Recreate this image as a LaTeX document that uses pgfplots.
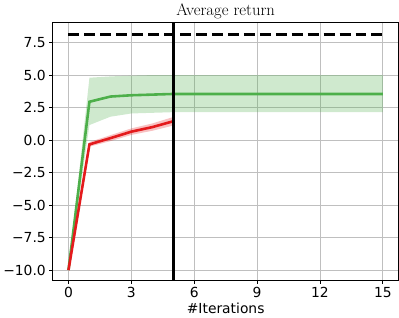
\documentclass[border=0pt]{standalone}
\usepackage{pgfplots}
\pgfplotsset{compat=1.18}
\usepackage{fontspec}
\newfontfamily\dejavu{DejaVu Sans}
\definecolor{sgreen}{HTML}{4DAF4A}
\definecolor{sred}{HTML}{E41A1C}
\begin{document}
\begin{tikzpicture}
\begin{axis}[
  scale only axis,
  width=347bp, height=259bp,
  xmin=-0.75, xmax=15.75,
  ymin=-10.77, ymax=9.09,
  xtick={0,3,6,9,12,15},
  xticklabels={0,3,6,9,12,15},
  ytick={-10,-7.5,-5,-2.5,0,2.5,5,7.5},
  yticklabels={−10.0,−7.5,−5.0,−2.5,0.0,2.5,5.0,7.5},
  tick label style={font=\fontsize{13.9bp}{16bp}\dejavu},
  xtick pos=bottom, ytick pos=left,
  tick align=outside,
  major tick length=3.5bp,
  every tick/.style={black, line width=0.8bp},
  axis line style={line width=0.8bp},
  grid=major,
  major grid style={color=black!25, line width=0.8bp},
  title={Average return},
  title style={font=\fontsize{16.7bp}{19bp}\selectfont, yshift=-6bp},
  xlabel={\#Iterations},
  xlabel style={font=\fontsize{13.9bp}{16bp}\dejavu, yshift=1bp},
]
% green band
\addplot[draw=none, fill=sgreen, fill opacity=0.27] coordinates {
 (0,-10) (1,4.8) (2,4.9) (3,4.96) (4,5.0) (5,5.0) (6,5.0) (7,5.0) (8,5.0) (9,5.0) (10,5.0) (11,5.0) (12,5.0) (13,5.0) (14,5.0) (15,5.0)
 (15,2.15) (14,2.15) (13,2.15) (12,2.15) (11,2.15) (10,2.15) (9,2.15) (8,2.15) (7,2.15) (6,2.15) (5,2.15) (4,2.1) (3,2.05) (2,1.8) (1,1.16) (0,-10)
} -- cycle;
% red band
\addplot[draw=none, fill=sred, fill opacity=0.27] coordinates {
 (0,-10) (1,-0.15) (2,0.38) (3,0.9) (4,1.28) (5,1.78)
 (5,1.12) (4,0.72) (3,0.4) (2,-0.08) (1,-0.5) (0,-10)
} -- cycle;
% green line
\addplot[sgreen, line width=2.6bp] coordinates {
 (0,-10) (1,2.95) (2,3.35) (3,3.45) (4,3.5) (5,3.55) (6,3.55) (7,3.55) (8,3.55) (9,3.55) (10,3.55) (11,3.55) (12,3.55) (13,3.55) (14,3.55) (15,3.55)
};
% red line
\addplot[sred, line width=2.6bp] coordinates {
 (0,-10) (1,-0.33) (2,0.15) (3,0.65) (4,1.0) (5,1.45)
};
% dashed reference line
\addplot[black, line width=2.8bp, dash pattern=on 11bp off 5bp] coordinates {(0,8.13) (15,8.13)};
% vertical line
\addplot[black, line width=2.8bp] coordinates {(5,-10.77) (5,9.09)};
\end{axis}
\end{tikzpicture}
\end{document}
